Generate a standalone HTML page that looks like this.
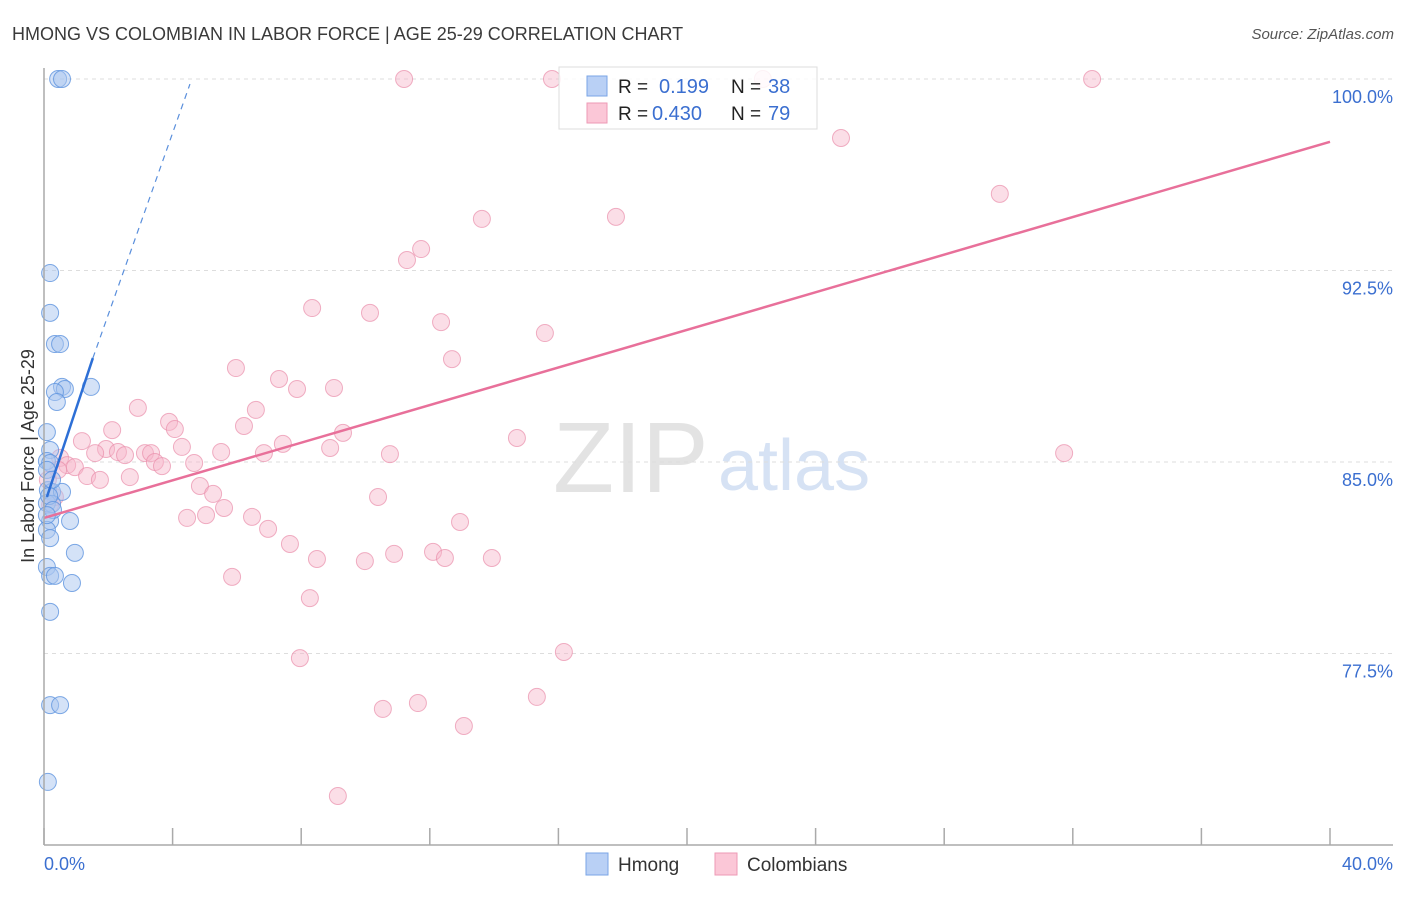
<!DOCTYPE html>
<html><head><meta charset="utf-8"><style>
body{margin:0;background:#fff;font-family:"Liberation Sans",sans-serif;}
svg text{font-family:"Liberation Sans",sans-serif;}
</style></head><body>
<svg id="chart" width="1406" height="892" xmlns="http://www.w3.org/2000/svg">
<text x="12" y="40" font-size="18" fill="#3a3a3a">HMONG VS COLOMBIAN IN LABOR FORCE | AGE 25-29 CORRELATION CHART</text>
<text x="1394" y="39" font-size="15" fill="#555" font-style="italic" text-anchor="end">Source: ZipAtlas.com</text>
<text x="553" y="492" font-size="100" fill="#d8d8d8" font-family="Liberation Serif" opacity="0.7">ZIP</text>
<text x="718" y="490" font-size="72" fill="#c5d6f0" opacity="0.7">atlas</text>
<g id="grid"></g>
<g id="marks"></g>
<line x1="44" y1="68" x2="44" y2="845" stroke="#aaa" stroke-width="1.5"/>
<line x1="44" y1="845" x2="1393" y2="845" stroke="#aaa" stroke-width="1.5"/>
<g id="ticks"></g>
<text transform="translate(34,456) rotate(-90)" font-size="18" fill="#333" text-anchor="middle">In Labor Force | Age 25-29</text>
<text x="44" y="870" font-size="18" fill="#3b6fd0">0.0%</text>
<text x="1393" y="870" font-size="18" fill="#3b6fd0" text-anchor="end">40.0%</text>
<g>
<rect x="559" y="67" width="258" height="62" fill="#fff" fill-opacity="0.85" stroke="#ddd"/>
<rect x="587" y="76" width="20" height="20" fill="#b9d0f5" stroke="#7aa5e6"/>
<rect x="587" y="103" width="20" height="20" fill="#fbc7d7" stroke="#ee9ab5"/>
<text x="618" y="93" font-size="19" fill="#222">R = </text><text x="659" y="93" font-size="20" fill="#3b6fd0">0.199</text>
<text x="731" y="93" font-size="19" fill="#222">N = </text><text x="768" y="93" font-size="20" fill="#3b6fd0">38</text>
<text x="618" y="120" font-size="19" fill="#222">R = </text><text x="652" y="120" font-size="20" fill="#3b6fd0">0.430</text>
<text x="731" y="120" font-size="19" fill="#222">N = </text><text x="768" y="120" font-size="20" fill="#3b6fd0">79</text>
</g>
<g><rect x="586" y="853" width="22" height="22" fill="#b9d0f5" stroke="#7aa5e6"/><text x="618" y="871" font-size="19" fill="#333">Hmong</text></g>
<g><rect x="715" y="853" width="22" height="22" fill="#fbc7d7" stroke="#ee9ab5"/><text x="747" y="871" font-size="19" fill="#333">Colombians</text></g>
</svg>
<script>
const yTicks=[77.5,85.0,92.5,100.0];
const xTicks=[0,4,8,12,16,20,24,28,32,36,40];
const hmongX=[0.44,0.56,0.19,0.19,0.34,0.50,0.56,0.65,1.46,0.34,0.40,0.09,0.19,0.09,0.19,0.12,0.25,0.56,0.09,0.25,0.19,0.81,0.09,0.19,0.96,0.09,0.19,0.34,0.87,0.19,0.19,0.50,0.12,0.09,0.25,0.16,0.28,0.09];
const hmongY=[100,100,92.40,90.84,89.62,89.62,87.94,87.86,87.94,87.74,87.35,86.17,85.47,85.04,84.96,83.90,83.83,83.83,83.39,83.36,82.69,82.69,82.34,82.02,81.44,80.89,80.54,80.54,80.26,79.13,75.48,75.48,72.47,84.69,84.30,83.67,83.12,82.92];
const colX=[11.20,15.80,22.36,32.60,24.79,29.73,17.79,13.62,11.73,11.29,8.34,10.14,12.35,15.58,12.69,5.97,7.31,7.87,9.02,2.92,6.59,3.89,4.07,6.22,2.12,1.18,9.30,14.71,7.43,4.29,8.90,1.93,1.59,2.30,2.52,3.14,3.33,5.51,6.84,10.76,31.73,0.50,0.72,0.96,0.44,3.45,3.67,4.67,1.34,2.67,1.74,4.85,5.26,10.39,5.60,4.45,5.04,6.47,12.94,6.97,7.65,8.49,9.98,10.89,12.10,12.47,13.93,5.85,8.27,16.17,7.96,15.33,11.63,10.54,13.06,9.14,0.19,0.34,0.12];
const colY=[100,100,100,100,97.69,95.50,94.60,94.52,93.34,92.91,91.03,90.84,90.48,90.05,89.03,88.68,88.25,87.86,87.90,87.12,87.04,86.57,86.29,86.41,86.25,85.82,86.14,85.94,85.71,85.59,85.55,85.51,85.35,85.39,85.27,85.35,85.35,85.39,85.35,85.31,85.35,85.16,84.88,84.80,84.69,85.00,84.84,84.96,84.45,84.41,84.30,84.06,83.75,83.63,83.20,82.81,82.92,82.85,82.65,82.38,81.79,81.20,81.12,81.40,81.48,81.24,81.24,80.50,79.67,77.56,77.32,75.80,75.56,75.33,74.66,71.92,83.32,83.63,84.30];
const pinkLine=[[0,82.81],[40,97.54]];
const blueSolid=[[0.09,83.63],[1.52,89.07]];
const blueDash=[[1.52,89.07],[4.54,99.80]];
const NS='http://www.w3.org/2000/svg';
const sx=v=>44+v/40*1286;
const sy=v=>845-(v-70)/30*766;
function mk(tag,attrs,parent){const e=document.createElementNS(NS,tag);for(const k in attrs)e.setAttribute(k,attrs[k]);parent.appendChild(e);return e;}
const grid=document.getElementById('grid'),marks=document.getElementById('marks'),ticks=document.getElementById('ticks');
yTicks.forEach(t=>{
  const l=mk('line',{x1:44,x2:1393,y1:sy(t),y2:sy(t),stroke:'#ddd','stroke-dasharray':'4,4'},grid);
  
  
  const tx=mk('text',{x:1393,y:sy(t)+24,'font-size':18,fill:'#3b6fd0','text-anchor':'end'},grid);
  tx.textContent=t.toFixed(1)+'%';
  
  
});
xTicks.forEach(t=>{
  const l=mk('line',{x1:sx(t),x2:sx(t),y1:828,y2:845,stroke:'#aaa','stroke-width':1.5},ticks);
  
  
});
colX.forEach((x,i)=>{
  const c=mk('circle',{cx:sx(x),cy:sy(colY[i]),r:8.5,fill:'#f6b6ca','fill-opacity':0.45,stroke:'#e98fab','stroke-opacity':0.7},marks);
  
  
});
hmongX.forEach((x,i)=>{
  const c=mk('circle',{cx:sx(x),cy:sy(hmongY[i]),r:8.5,fill:'#a9c6f0','fill-opacity':0.5,stroke:'#5e93de','stroke-opacity':0.8},marks);
  
  
});
const pl=mk('line',{x1:sx(pinkLine[0][0]),y1:sy(pinkLine[0][1]),x2:sx(pinkLine[1][0]),y2:sy(pinkLine[1][1]),stroke:'#e8709a','stroke-width':2.5},marks);


const bd=mk('line',{x1:sx(blueDash[0][0]),y1:sy(blueDash[0][1]),x2:sx(blueDash[1][0]),y2:sy(blueDash[1][1]),stroke:'#5a8fdc','stroke-width':1.2,'stroke-dasharray':'6,5'},marks);


const bs=mk('line',{x1:sx(blueSolid[0][0]),y1:sy(blueSolid[0][1]),x2:sx(blueSolid[1][0]),y2:sy(blueSolid[1][1]),stroke:'#2d6fd6','stroke-width':2.5},marks);


</script>
</body></html>
